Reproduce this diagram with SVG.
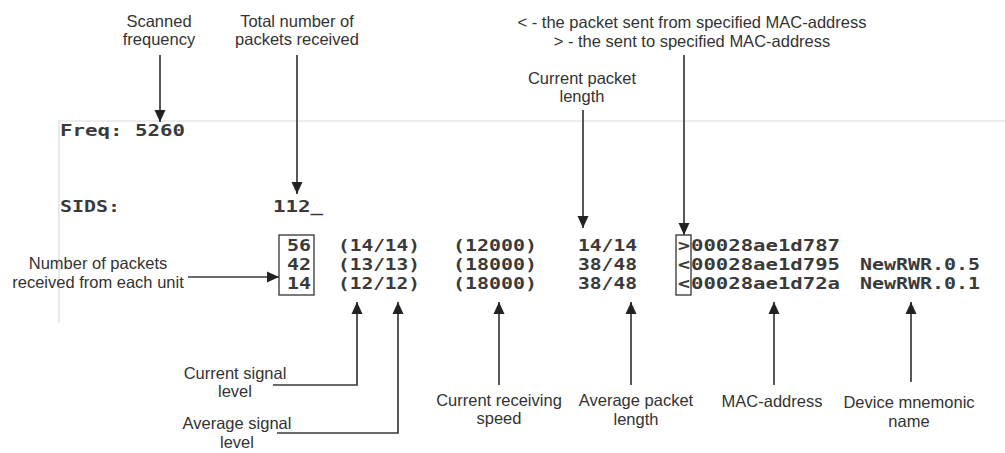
<svg xmlns="http://www.w3.org/2000/svg" width="1005" height="453" viewBox="0 0 1005 453">
  <defs>
    <style>
      .lbl { font-family: "Liberation Sans", Arial, sans-serif; font-size: 16.5px; fill: #333; text-anchor: middle; }
      .term { font-family: "DejaVu Sans Mono", "Liberation Mono", monospace; font-weight: bold; font-size: 16px; fill: #3a3a3a; }
      .frame { stroke: #dcdcdc; stroke-width: 1.2; fill: none; }
      .conn { stroke: #3a3a3a; stroke-width: 1.7; fill: none; }
      .box { stroke: #333; stroke-width: 1.3; fill: none; }
    </style>
    <marker id="arr" markerUnits="userSpaceOnUse" markerWidth="12" markerHeight="12" viewBox="0 0 12 12" refX="12" refY="6" orient="auto">
      <path d="M0,0.5 L12,6 L0,11.5 Z" fill="#222"/>
    </marker>
  </defs>
  <rect width="1005" height="453" fill="#fff"/>

  <!-- terminal frame -->
  <g id="frame">
    <line class="frame" x1="58" y1="121" x2="1005" y2="121"/>
    <line class="frame" x1="59" y1="121" x2="59" y2="323"/>
  </g>

  <!-- terminal text -->
  <g id="terminal">
    <text class="term" x="60" y="136" textLength="125" lengthAdjust="spacingAndGlyphs">Freq: 5260</text>
    <text class="term" x="60" y="212" textLength="60" lengthAdjust="spacingAndGlyphs">SIDS:</text>
    <text class="term" x="273" y="212" textLength="50" lengthAdjust="spacingAndGlyphs">112_</text>

    <text class="term" x="287" y="251" textLength="24" lengthAdjust="spacingAndGlyphs">56</text>
    <text class="term" x="287" y="270" textLength="24" lengthAdjust="spacingAndGlyphs">42</text>
    <text class="term" x="287" y="289" textLength="24" lengthAdjust="spacingAndGlyphs">14</text>

    <text class="term" x="338" y="251" textLength="82" lengthAdjust="spacingAndGlyphs">(14/14)</text>
    <text class="term" x="338" y="270" textLength="82" lengthAdjust="spacingAndGlyphs">(13/13)</text>
    <text class="term" x="338" y="289" textLength="82" lengthAdjust="spacingAndGlyphs">(12/12)</text>

    <text class="term" x="453" y="251" textLength="84" lengthAdjust="spacingAndGlyphs">(12000)</text>
    <text class="term" x="453" y="270" textLength="84" lengthAdjust="spacingAndGlyphs">(18000)</text>
    <text class="term" x="453" y="289" textLength="84" lengthAdjust="spacingAndGlyphs">(18000)</text>

    <text class="term" x="578" y="251" textLength="59" lengthAdjust="spacingAndGlyphs">14/14</text>
    <text class="term" x="578" y="270" textLength="59" lengthAdjust="spacingAndGlyphs">38/48</text>
    <text class="term" x="578" y="289" textLength="59" lengthAdjust="spacingAndGlyphs">38/48</text>

    <text class="term" x="678" y="251" textLength="12" lengthAdjust="spacingAndGlyphs">&gt;</text>
    <text class="term" x="678" y="270" textLength="12" lengthAdjust="spacingAndGlyphs">&lt;</text>
    <text class="term" x="678" y="289" textLength="12" lengthAdjust="spacingAndGlyphs">&lt;</text>

    <text class="term" x="691" y="251" textLength="149" lengthAdjust="spacingAndGlyphs">00028ae1d787</text>
    <text class="term" x="691" y="270" textLength="149" lengthAdjust="spacingAndGlyphs">00028ae1d795</text>
    <text class="term" x="691" y="289" textLength="149" lengthAdjust="spacingAndGlyphs">00028ae1d72a</text>

    <text class="term" x="860" y="270" textLength="120" lengthAdjust="spacingAndGlyphs">NewRWR.0.5</text>
    <text class="term" x="860" y="289" textLength="120" lengthAdjust="spacingAndGlyphs">NewRWR.0.1</text>

    <rect class="box" x="279" y="235" width="35" height="60"/>
    <rect class="box" x="676" y="235" width="15" height="60"/>
  </g>

  <!-- connectors -->
  <g id="connectors">
    <line class="conn" x1="160" y1="55" x2="160" y2="122" marker-end="url(#arr)"/>
    <line class="conn" x1="297" y1="55" x2="297" y2="194" marker-end="url(#arr)"/>
    <line class="conn" x1="583" y1="110" x2="583" y2="228" marker-end="url(#arr)"/>
    <line class="conn" x1="684" y1="55" x2="684" y2="235" marker-end="url(#arr)"/>
    <line class="conn" x1="188" y1="277" x2="279" y2="277" marker-end="url(#arr)"/>
    <polyline class="conn" points="273,385 357,385 357,302" marker-end="url(#arr)"/>
    <polyline class="conn" points="277,433 398,433 398,302" marker-end="url(#arr)"/>
    <line class="conn" x1="499" y1="385" x2="499" y2="302" marker-end="url(#arr)"/>
    <line class="conn" x1="631" y1="385" x2="631" y2="302" marker-end="url(#arr)"/>
    <line class="conn" x1="774" y1="385" x2="774" y2="302" marker-end="url(#arr)"/>
    <line class="conn" x1="911" y1="382" x2="911" y2="302" marker-end="url(#arr)"/>
  </g>

  <!-- labels -->
  <g id="lbl-scanned">
    <text class="lbl" x="159" y="27">Scanned</text>
    <text class="lbl" x="159" y="45">frequency</text>
  </g>
  <g id="lbl-total">
    <text class="lbl" x="297" y="27">Total number of</text>
    <text class="lbl" x="297" y="45">packets received</text>
  </g>
  <g id="lbl-direction">
    <text class="lbl" x="692" y="28">&lt; - the packet sent from specified MAC-address</text>
    <text class="lbl" x="692" y="47">&gt; - the sent to specified MAC-address</text>
  </g>
  <g id="lbl-curlen">
    <text class="lbl" x="582" y="84">Current packet</text>
    <text class="lbl" x="582" y="102">length</text>
  </g>
  <g id="lbl-count">
    <text class="lbl" x="98" y="269">Number of packets</text>
    <text class="lbl" x="98" y="288">received from each unit</text>
  </g>
  <g id="lbl-cursig">
    <text class="lbl" x="235" y="379">Current signal</text>
    <text class="lbl" x="235" y="397">level</text>
  </g>
  <g id="lbl-avgsig">
    <text class="lbl" x="237" y="429">Average signal</text>
    <text class="lbl" x="237" y="448">level</text>
  </g>
  <g id="lbl-speed">
    <text class="lbl" x="499" y="406">Current receiving</text>
    <text class="lbl" x="499" y="424">speed</text>
  </g>
  <g id="lbl-avglen">
    <text class="lbl" x="636" y="406">Average packet</text>
    <text class="lbl" x="636" y="425">length</text>
  </g>
  <g id="lbl-mac">
    <text class="lbl" x="772" y="407">MAC-address</text>
  </g>
  <g id="lbl-name">
    <text class="lbl" x="909" y="408">Device mnemonic</text>
    <text class="lbl" x="909" y="427">name</text>
  </g>
</svg>
